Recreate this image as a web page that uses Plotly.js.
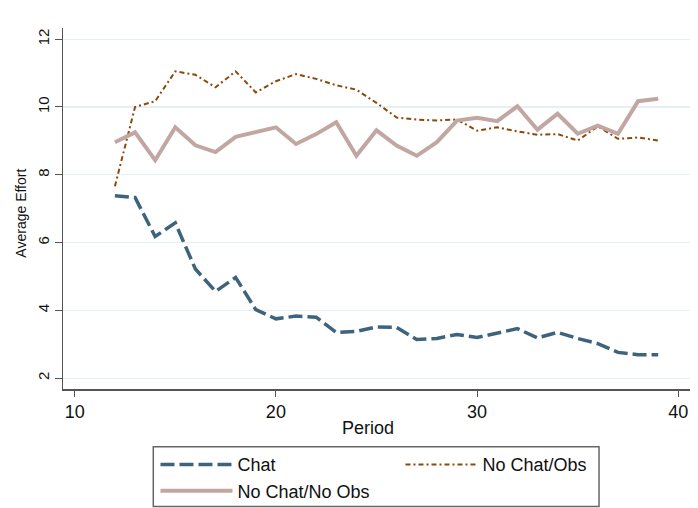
<!DOCTYPE html>
<html>
<head>
<meta charset="utf-8">
<script src="https://cdn.plot.ly/plotly-3.0.1.min.js"></script>
<style>html,body{margin:0;padding:0;background:#fff;}#chart{width:698px;height:508px;}</style>
</head>
<body>
<div id="chart"></div>
<script>
const periods = [12,13,14,15,16,17,18,19,20,21,22,23,24,25,26,27,28,29,30,31,32,33,34,35,36,37,38,39];
const chat = [7.38,7.33,6.18,6.58,5.22,4.56,4.97,4.02,3.75,3.83,3.80,3.35,3.38,3.51,3.50,3.14,3.17,3.29,3.20,3.32,3.46,3.19,3.35,3.17,3.02,2.76,2.69,2.69];
const noChatObs = [7.66,10.0,10.17,11.05,10.95,10.58,11.05,10.43,10.76,10.97,10.83,10.64,10.51,10.12,9.69,9.63,9.60,9.63,9.30,9.40,9.28,9.18,9.20,9.01,9.43,9.06,9.10,9.01];
const noChatNoObs = [8.96,9.25,8.43,9.40,8.87,8.67,9.12,9.26,9.40,8.91,9.20,9.55,8.56,9.31,8.86,8.56,8.96,9.60,9.68,9.58,10.02,9.33,9.80,9.21,9.45,9.21,10.17,10.24];
const seriesNames = ["Chat","No Chat/Obs","No Chat/No Obs"];
const xTicks = [10,20,30,40];
const yTicks = [2,4,6,8,10,12];
const xTitle = "Period";
const yTitle = "Average Effort";

const font = "Liberation Sans, Arial, sans-serif";
const traces = [
  {x: periods, y: chat, name: seriesNames[0], mode: "lines",
   line: {color: "#3E647D", width: 3.5, dash: "14px,5px"}},
  {x: periods, y: noChatObs, name: seriesNames[1], mode: "lines",
   line: {color: "#8B4A0B", width: 2, dash: "5px,3px,2px,3px"}},
  {x: periods, y: noChatNoObs, name: seriesNames[2], mode: "lines",
   line: {color: "#C2A6A2", width: 4}}
];
const layout = {
  width: 698, height: 508,
  paper_bgcolor: "#fff", plot_bgcolor: "#fff",
  margin: {l: 63, r: 8, t: 28, b: 119, pad: 0, autoexpand: false},
  font: {family: font, size: 18, color: "#111"},
  showlegend: true,
  legend: {orientation: "h", x: 0.1475, y: -0.1584, xanchor: "left", yanchor: "top",
    borderwidth: 0, bgcolor: "rgba(0,0,0,0)",
    itemwidth: 72, entrywidth: 158, font: {family: font, size: 18, color: "#111"},
    traceorder: "normal", tracegroupgap: 0},
  shapes: [
    {type: "rect", xref: "paper", yref: "paper", x0: 0.144, x1: 0.8549, y0: -0.3258, y1: -0.1597,
     line: {color: "#666", width: 1.5}, fillcolor: "rgba(0,0,0,0)", layer: "below"}
  ],
  annotations: [
    {text: xTitle, xref: "paper", yref: "paper", x: 0.4859, y: -0.1071,
     xanchor: "center", yanchor: "middle", showarrow: false,
     font: {family: font, size: 18, color: "#111"}},
    {text: yTitle, xref: "paper", yref: "paper", x: -0.0665, y: 0.4866, textangle: -90,
     xanchor: "center", yanchor: "middle", showarrow: false,
     font: {family: font, size: 14, color: "#111"}}
  ],
  xaxis: {range: [9.42, 40.58], tickvals: xTicks, ticktext: xTicks.map(String),
    showgrid: false, zeroline: false, showline: true, linecolor: "#555", linewidth: 1.5,
    ticks: "outside", ticklen: 6, tickcolor: "#555", tickwidth: 1,
    tickfont: {family: font, size: 18, color: "#111"},
    automargin: false},
  yaxis: {range: [1.68, 12.33], tickvals: yTicks, ticktext: yTicks.map(String),
    showgrid: true, gridcolor: "#E6EFF1", gridwidth: 1.2, zeroline: false,
    showline: true, linecolor: "#555", linewidth: 1.5,
    ticks: "outside", ticklen: 7, tickcolor: "#555", tickwidth: 1, tickangle: -90,
    tickfont: {family: font, size: 15, color: "#111"},
    automargin: false}
};
Plotly.newPlot("chart", traces, layout, {displayModeBar: false, staticPlot: true});
</script>
</body>
</html>
